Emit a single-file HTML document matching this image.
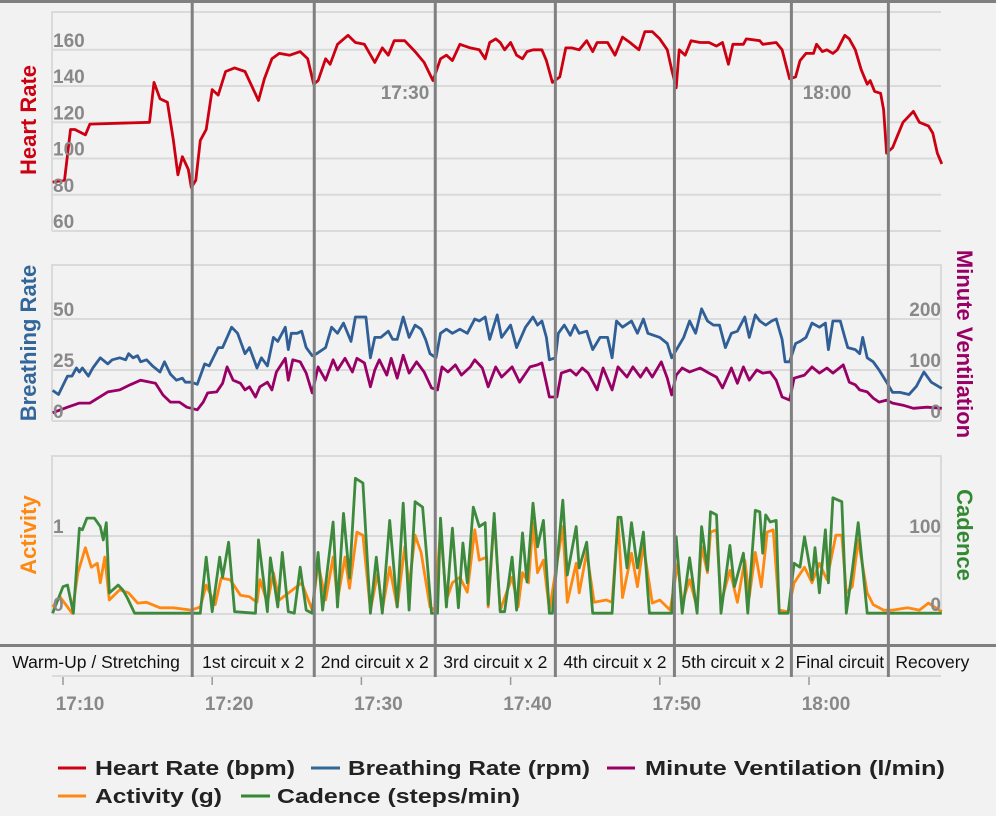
<!DOCTYPE html>
<html><head><meta charset="utf-8"><style>
html,body{margin:0;padding:0;background:#f2f2f2;}
svg{display:block;font-family:"Liberation Sans",sans-serif;}
.tick{font-weight:bold;font-size:19px;fill:#888;}
.phase{font-size:17.5px;fill:#111;}
.leg{font-family:"Liberation Sans Narrow","Liberation Sans",sans-serif;font-weight:bold;font-size:20px;fill:#222;}
</style></head><body>
<svg id="chart" width="996" height="816" viewBox="0 0 996 816">
<rect x="0" y="0" width="996" height="816" fill="#f2f2f2"/>
<g id="grid"></g>
<g id="series"></g>
<g id="overlay"></g>

<text x="0" y="0" transform="translate(36,120) rotate(-90)" text-anchor="middle" font-weight="bold" font-size="22" fill="#cc0011">Heart Rate</text>
<text x="0" y="0" transform="translate(36,343) rotate(-90)" text-anchor="middle" font-weight="bold" font-size="22" fill="#336699">Breathing Rate</text>
<text x="0" y="0" transform="translate(36,535) rotate(-90)" text-anchor="middle" font-weight="bold" font-size="22" fill="#ff8811">Activity</text>
<text x="0" y="0" transform="translate(957,344) rotate(90)" text-anchor="middle" font-weight="bold" font-size="22" fill="#990066">Minute Ventilation</text>
<text x="0" y="0" transform="translate(957,535) rotate(90)" text-anchor="middle" font-weight="bold" font-size="22" fill="#338833">Cadence</text>

<g>
<g><line x1="58" y1="768" x2="86" y2="768" stroke="#cc0011" stroke-width="3"/><text class="leg" x="95" y="775" textLength="200" lengthAdjust="spacingAndGlyphs">Heart Rate (bpm)</text></g>
<g><line x1="311" y1="768" x2="340" y2="768" stroke="#336699" stroke-width="3"/><text class="leg" x="348" y="775" textLength="242" lengthAdjust="spacingAndGlyphs">Breathing Rate (rpm)</text></g>
<g><line x1="607" y1="768" x2="635" y2="768" stroke="#990066" stroke-width="3"/><text class="leg" x="645" y="775" textLength="300" lengthAdjust="spacingAndGlyphs">Minute Ventilation (l/min)</text></g>
<g><line x1="58" y1="796" x2="86" y2="796" stroke="#ff8811" stroke-width="3"/><text class="leg" x="95" y="803" textLength="127" lengthAdjust="spacingAndGlyphs">Activity (g)</text></g>
<g><line x1="241" y1="796" x2="270" y2="796" stroke="#338833" stroke-width="3"/><text class="leg" x="277" y="803" textLength="243" lengthAdjust="spacingAndGlyphs">Cadence (steps/min)</text></g>
</g>
</svg>
<script>
// ---- data (time in minutes after 17:00) ----
const hrTimes=[9.3,10.1,10.5,10.8,11.5,11.8,15.8,16.1,16.5,17.0,17.4,17.7,18.0,18.4,18.6,18.9,19.2,19.6,20.0,20.4,20.9,21.5,22.2,23.1,23.5,24.0,24.5,25.2,25.9,26.4,26.8,27.1,27.6,27.9,28.4,29.1,29.6,30.2,30.9,31.4,31.8,32.2,32.9,33.6,34.2,34.8,35.3,35.7,36.1,36.6,37.3,37.9,38.3,38.5,38.6,39.0,39.3,39.6,40.0,40.4,40.8,41.1,41.5,42.1,42.4,42.8,43.3,43.7,44.1,44.6,45.1,45.5,45.8,46.5,47.0,47.5,48.0,48.6,49.0,49.5,50.0,50.5,50.8,51.1,51.3,51.7,52.1,52.7,53.3,53.8,54.2,54.6,54.9,55.6,55.8,56.7,56.9,57.8,58.2,58.7,59.1,59.4,59.8,60.3,60.5,60.9,61.2,61.6,61.9,62.4,62.7,63.1,63.5,63.9,64.1,64.4,64.8,65.0,65.2,65.6,65.9,66.3,67.0,67.4,68.0,68.3,68.6,68.9];
const hrValues=[87,88,116,116,113,119,120,142,133,131,110,91,101,94,84,88,110,116,138,135,148,150,148,132,144,155,158,157,159,155,141,143,155,152,163,168,164,163,153,161,157,165,165,159,153,143,155,157,154,163,161,160,155,161,164,166,164,160,164,157,155,159,160,160,154,142,145,161,161,160,165,159,164,164,157,167,164,160,170,170,166,160,149,139,160,157,165,164,164,162,164,152,163,163,166,165,163,164,160,144,145,154,158,158,163,159,160,158,160,168,166,160,149,141,143,137,136,127,103,106,112,120,126,120,118,114,103,97];

const brTimes=[9.3,9.7,10.3,10.6,10.9,11.1,11.3,11.7,12.0,12.5,13.0,13.3,13.8,14.2,14.4,14.7,15.0,15.2,15.6,16.0,16.5,16.8,17.2,17.6,18.0,18.2,18.6,19.0,19.5,19.8,20.4,20.7,21.3,21.7,22.2,22.5,23.0,23.3,23.7,24.1,24.4,24.9,25.1,25.3,25.7,26.0,26.3,26.7,27.0,27.6,28.0,28.4,28.8,29.3,29.6,30.3,30.6,30.9,31.3,31.8,32.1,32.4,32.8,33.2,33.6,34.0,34.3,34.6,35.0,35.3,35.7,36.1,36.6,37.1,37.6,37.9,38.3,38.6,39.1,39.4,40.0,40.4,41.0,41.5,41.8,42.1,42.4,42.6,43.0,43.2,43.6,44.0,44.3,44.6,45.1,45.5,46.0,46.5,46.8,47.1,47.5,48.1,48.5,48.9,49.2,50.0,50.5,50.8,51.2,51.6,52.0,52.4,52.8,53.2,53.6,54.0,54.4,54.8,55.2,55.7,56.0,56.4,56.7,57.1,57.5,57.8,58.2,58.4,58.7,59.1,59.4,59.8,60.2,60.7,61.1,61.3,61.6,62.1,62.4,62.6,63.1,63.4,63.6,63.9,64.3,64.7,65.2,65.6,66.1,66.7,67.2,67.7,68.2,68.9];
const brValues=[15,13,22,22,26,24,26,22,26,31,28,30,31,30,33,31,32,29,30,27,24,29,23,20,21,19,19,18,28,27,36,36,46,43,33,36,26,31,27,41,39,46,35,43,43,44,36,32,33,36,46,43,48,39,51,51,31,41,41,44,40,40,51,41,47,45,40,33,31,43,45,43,45,43,50,49,51,40,52,41,47,36,46,51,47,49,41,30,31,43,47,42,47,43,44,35,41,41,31,49,46,49,43,50,43,41,38,31,36,41,49,43,55,49,47,47,36,43,44,51,41,52,49,47,49,50,40,29,29,38,39,41,48,46,48,35,49,49,41,36,35,33,41,31,29,25,19,14,14,13,17,24,19,16];

const mvTimes=[9.3,10.3,11.1,11.8,13.0,13.8,14.5,15.2,16.2,16.7,17.2,17.8,18.3,19.0,19.4,19.7,20.3,20.7,21.0,21.4,21.9,22.2,22.5,22.9,23.2,23.7,24.0,24.3,24.9,25.1,25.4,25.9,26.3,26.7,27.1,27.6,28.1,28.4,28.9,29.4,29.7,30.2,30.6,30.9,31.2,31.7,32.0,32.4,32.8,33.2,33.7,34.2,34.7,35.1,35.4,35.8,36.3,36.7,37.3,37.6,38.1,38.5,39.0,39.4,40.1,40.6,41.3,41.8,42.1,42.6,43.1,43.4,44.0,44.4,44.8,45.2,45.8,46.2,46.8,47.2,47.8,48.2,48.7,49.1,49.5,50.1,50.5,50.8,51.1,51.5,52.0,52.7,53.3,53.8,54.2,54.8,55.2,55.6,56.0,56.5,56.9,57.4,57.8,58.2,58.7,59.0,59.7,60.2,60.7,61.2,61.6,62.3,62.7,63.1,63.4,63.9,64.3,64.7,65.2,65.6,66.3,67.0,67.9,68.9];
const mvValues=[16,27,35,35,57,61,71,80,74,51,37,37,27,22,37,55,57,74,106,80,74,61,67,47,67,76,61,96,123,80,120,116,94,55,106,80,120,100,123,96,123,114,67,100,120,90,123,84,129,94,116,96,65,61,106,96,110,90,106,120,104,67,106,86,106,76,106,110,114,47,47,94,100,90,104,94,61,104,61,106,86,106,86,104,86,116,84,51,90,104,96,104,94,86,65,104,74,106,80,100,94,96,80,47,41,84,90,106,94,104,94,110,76,71,61,57,45,37,41,35,31,25,27,25];

const actTimes=[9.3,9.8,10.3,10.6,11.0,11.5,11.9,12.3,12.5,12.8,13.1,13.8,14.4,15.0,15.6,16.5,17.4,18.6,19.2,19.6,20.2,20.6,21.2,21.9,22.5,23.0,23.2,23.7,24.1,24.5,25.4,26.0,26.7,27.1,27.6,28.1,28.4,28.9,29.2,29.7,30.1,30.6,31.1,31.4,31.9,32.4,32.9,33.2,33.6,34.0,34.6,34.9,35.3,35.7,36.1,36.6,37.1,37.6,37.9,38.4,38.5,38.9,39.3,40.1,40.5,40.8,41.2,41.5,41.8,42.2,42.6,43.5,43.8,44.4,44.6,45.1,45.6,46.4,46.8,47.2,47.5,48.1,48.5,48.9,49.5,50.0,50.7,51.2,51.5,52.0,52.5,52.8,53.2,53.4,53.8,54.1,54.7,55.2,55.7,56.0,56.4,56.8,57.2,57.6,58.0,58.6,59.0,59.7,60.2,60.7,61.2,61.8,62.2,62.5,62.9,63.3,63.9,64.3,65.0,65.6,66.6,67.4,68.0,68.9];
const actValues=[0.09,0.22,0.09,0.01,0.53,0.85,0.6,0.65,0.4,0.73,0.18,0.31,0.27,0.14,0.15,0.08,0.08,0.05,0.09,0.37,0.12,0.46,0.44,0.24,0.22,0.15,0.44,0.14,0.53,0.18,0.31,0.4,0.05,0.65,0.18,0.73,0.18,0.73,0.33,1.05,1.01,0.05,0.53,0.05,0.6,0.09,0.86,0.35,1.01,0.79,0.09,0.05,1.08,0.18,0.4,0.47,0.28,1.08,0.69,0.73,0.09,1.24,0.05,0.47,0.09,0.53,0.4,1.17,0.53,0.69,0.05,1.12,0.15,0.65,0.27,0.79,0.15,0.18,0.15,1.21,0.21,0.78,0.35,0.88,0.14,0.18,0.05,0.65,0.14,0.44,0.08,0.86,0.53,1.05,1.08,0.14,0.56,0.15,0.69,0.22,0.79,0.35,1.05,1.08,0.05,0.03,0.4,0.6,0.4,0.65,0.44,1.01,1.01,0.27,0.35,0.95,0.27,0.12,0.05,0.05,0.08,0.05,0.14,0.03];

const cadTimes=[9.3,10.0,10.3,10.7,11.1,11.3,11.6,12.1,12.5,12.7,12.9,13.1,13.7,14.0,14.3,14.8,18.6,19.2,19.6,20.0,20.5,20.7,21.1,21.5,22.9,23.1,23.7,23.9,24.4,24.7,25.1,25.5,25.9,26.3,26.7,27.1,27.4,28.1,28.4,28.8,29.2,29.6,30.1,30.6,31.0,31.4,31.9,32.4,32.8,33.2,33.6,34.1,34.7,35.1,35.3,35.7,36.1,36.5,36.8,37.1,37.5,37.9,38.3,38.5,38.9,39.3,39.6,40.1,40.4,40.8,41.1,41.5,41.8,42.2,42.6,42.8,43.5,43.8,44.4,44.6,45.1,45.5,46.8,47.2,47.4,47.8,48.1,48.5,48.9,49.3,50.8,51.1,51.5,52.0,52.5,52.8,53.2,53.4,53.8,54.1,54.7,55.0,55.6,55.9,56.4,56.7,56.9,57.1,57.4,57.8,58.0,58.6,59.0,59.4,59.7,60.2,60.4,60.7,61.1,61.3,61.6,62.2,62.5,62.9,63.3,63.9,68.9];
const cadValues=[1,35,37,1,110,108,123,123,112,95,117,27,37,31,21,1,1,1,73,3,73,47,92,3,1,95,3,72,9,79,3,1,60,5,1,79,5,118,9,129,46,174,168,1,73,1,120,9,142,5,144,137,1,1,123,9,110,8,91,40,137,112,117,12,129,3,3,73,5,104,41,142,86,120,1,1,146,50,112,59,92,1,1,124,124,59,117,59,105,1,1,99,1,72,1,112,56,131,127,1,88,35,78,1,133,131,78,127,118,120,1,1,65,60,99,44,85,27,108,40,149,144,1,56,117,1,1];

const hrTicks=[160,140,120,100,80,60];
const brTicks=[50,25,0];
const mvTicks=[200,100,0];
const actTicks=[1,0];
const cadTicks=[100,0];
const timeTickValues=[10,20,30,40,50,60];
const timeTickLabels=["17:10","17:20","17:30","17:40","17:50","18:00"];
const phaseNames=["Warm-Up / Stretching","1st circuit x 2","2nd circuit x 2","3rd circuit x 2","4th circuit x 2","5th circuit x 2","Final circuit","Recovery"];
const phaseBoundaries=[18.66,26.84,34.95,43.0,50.98,58.82,65.32];

// ---- scales ----
const X0=52,X1=941;
const x=t=>63+(t-10)*14.92;
const yHR=v=>231-(v-60)*1.8125;
const yBR=v=>421-v*2.04;
const yMV=v=>421-v*0.51;
const yAct=v=>614-v*78;
const yCad=v=>614-v*0.78;

const NS="http://www.w3.org/2000/svg";
function mk(tag,attrs,parent){const e=document.createElementNS(NS,tag);for(const k in attrs)e.setAttribute(k,attrs[k]);parent.appendChild(e);return e;}
const grid=document.getElementById('grid'),series=document.getElementById('series'),ov=document.getElementById('overlay');

function panel(top,bottom,right,name){
  const r=mk('path',{d:`M${X0},${bottom} V${top} H${X1}`+(right?` V${bottom}`:''),fill:'none',stroke:'#dadada','stroke-width':2},grid);
  
  
}
function gridline(y,name){
  const l=mk('line',{x1:X0,x2:X1,y1:y,y2:y,stroke:'#dadada','stroke-width':2},grid);
  
  
}
function label(txt,xx,yy,anchor,name,cls){
  const t=mk('text',{x:xx,y:yy,'text-anchor':anchor,class:cls||'tick'},ov);
  t.textContent=txt;
  
  
  return t;
}
panel(12,231,false,'heart-rate-panel');
panel(265,421,true,'breathing-panel');
panel(456,614,true,'activity-panel');
hrTicks.forEach(v=>{gridline(yHR(v),'hr-gridline');label(String(v),53,yHR(v)-3,'start','hr-tick-label');});
brTicks.forEach(v=>{gridline(yBR(v),'br-gridline');label(String(v),53,yBR(v)-3,'start','br-tick-label');});
mvTicks.forEach(v=>{label(String(v),941,yMV(v)-3,'end','mv-tick-label');});
actTicks.forEach(v=>{gridline(yAct(v),'activity-gridline');label(String(v),53,yAct(v)-3,'start','activity-tick-label');});
cadTicks.forEach(v=>{label(String(v),941,yCad(v)-3,'end','cadence-tick-label');});

function line(ts,vs,ys,color,name){
  let d='';ts.forEach((t,i)=>{d+=(i?'L':'M')+x(t).toFixed(1)+','+ys(vs[i]).toFixed(1);});
  const p=mk('path',{d:d,fill:'none',stroke:color,'stroke-width':2.8,'stroke-linejoin':'round'},series);
  
  
}
line(hrTimes,hrValues,yHR,'#cc0011','heart-rate-line');
line(mvTimes,mvValues,yMV,'#990066','minute-ventilation-line');
line(brTimes,brValues,yBR,'#2f5f96','breathing-rate-line');
line(actTimes,actValues,yAct,'#ff8811','activity-line');
line(cadTimes,cadValues,yCad,'#3d8a3d','cadence-line');

// in-plot time labels
label('17:30',405,99,'middle','hr-time-label-1730');
label('18:00',827,99,'middle','hr-time-label-1800');

// top bar and bottom bar
let b=mk('rect',{x:0,y:0,width:996,height:3,fill:'#808080'},ov);


b=mk('rect',{x:0,y:644,width:996,height:3,fill:'#808080'},ov);


b=mk('line',{x1:X0,x2:X1,y1:676,y2:676,stroke:'#dadada','stroke-width':2},ov);



// phase separators
phaseBoundaries.forEach(t=>{
  const s=mk('rect',{x:x(t)-1.5,y:0,width:3,height:677,fill:'#808080'},ov);
  
  
});
const edges=[0].concat(phaseBoundaries.map(x)).concat([996]);
phaseNames.forEach((n,i)=>{
  let cx=(edges[i]+edges[i+1])/2;
  if(i===phaseNames.length-1) cx=edges[i]+44;
  const t=label(n,cx,668,'middle','phase-label','phase');
  
});
// time axis
timeTickValues.forEach((tv,i)=>{
  const l=mk('line',{x1:x(tv),x2:x(tv),y1:677,y2:685,stroke:'#999','stroke-width':1.5},ov);
  
  
  label(timeTickLabels[i],x(tv)+17,710,'middle','time-tick-label');
});
</script>
</body></html>
